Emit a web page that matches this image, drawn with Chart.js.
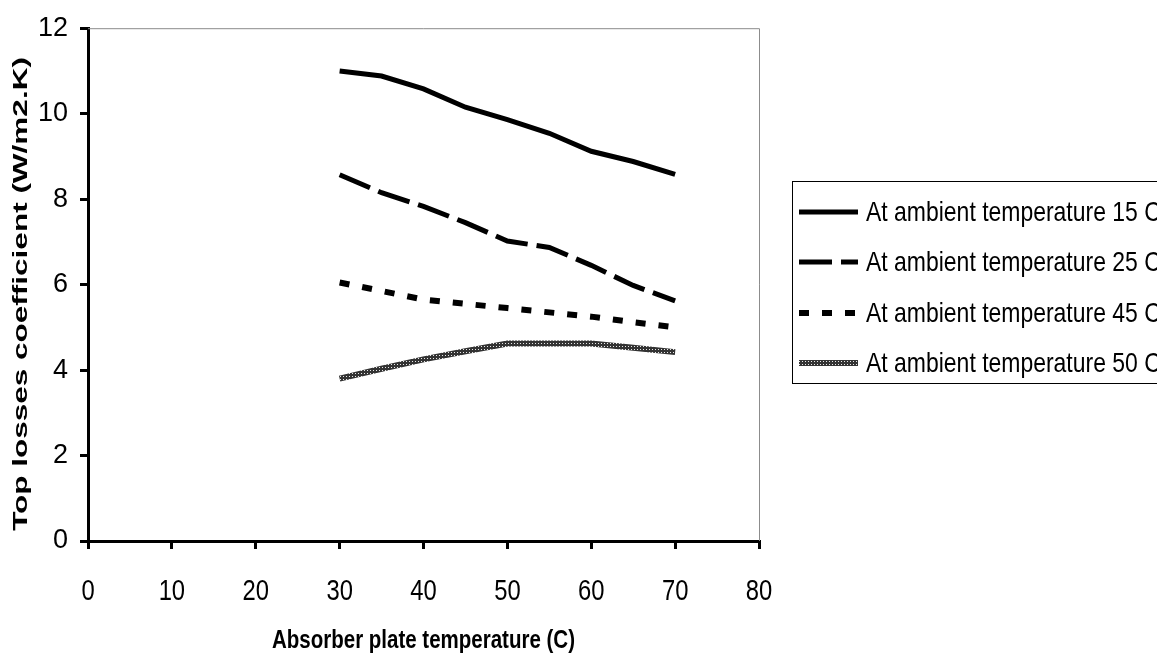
<!DOCTYPE html>
<html>
<head>
<meta charset="utf-8">
<script src="https://cdn.jsdelivr.net/npm/chart.js@4.4.1/dist/chart.umd.min.js"></script>
<style>
  html, body { margin: 0; padding: 0; background: #ffffff; }
  canvas { display: block; }
</style>
</head>
<body>
<canvas id="c" width="1157" height="655"></canvas>
<script>
// ---- data ----
const plateTemps = [30, 35, 40, 45, 50, 55, 60, 65, 70];
const amb15 = [11.0, 10.88, 10.58, 10.15, 9.86, 9.54, 9.12, 8.88, 8.58];
const amb25 = [8.57, 8.15, 7.83, 7.45, 7.02, 6.87, 6.45, 5.98, 5.62];
const amb45 = [6.05, 5.85, 5.65, 5.55, 5.45, 5.35, 5.25, 5.12, 5.0];
const amb50 = [3.8, 4.03, 4.25, 4.44, 4.62, 4.62, 4.62, 4.52, 4.42];
const seriesLabels = [
  'At ambient temperature 15 C',
  'At ambient temperature 25 C',
  'At ambient temperature 45 C',
  'At ambient temperature 50 C'
];
const xTickValues = [0, 10, 20, 30, 40, 50, 60, 70, 80];
const yTickValues = [0, 2, 4, 6, 8, 10, 12];
const xTitle = 'Absorber plate temperature (C)';
const yTitle = 'Top losses coefficient (W/m2.K)';

const REG = "'Liberation Sans', Arial, sans-serif";
const NARROW_X = 0.82; // horizontal squeeze to imitate a narrow face

const canvas = document.getElementById('c');
const ctx = canvas.getContext('2d');

// textured grey pattern for the 50 C series
const pc = document.createElement('canvas');
pc.width = 3; pc.height = 3;
const pctx = pc.getContext('2d');
pctx.fillStyle = '#333333';
pctx.fillRect(0, 0, 3, 3);
pctx.fillStyle = '#e8e8e8';
pctx.fillRect(1, 1, 1, 1);
const texture = ctx.createPattern(pc, 'repeat');

function pts(ys) { return plateTemps.map((x, i) => ({ x: x, y: ys[i] })); }

const datasets = [
  { label: seriesLabels[0], data: pts(amb15), borderColor: '#000000', borderWidth: 5, borderDash: [] },
  { label: seriesLabels[1], data: pts(amb25), borderColor: '#000000', borderWidth: 5, borderDash: [33, 9] },
  { label: seriesLabels[2], data: pts(amb45), borderColor: '#000000', borderWidth: 6, borderDash: [10, 13] },
  { label: seriesLabels[3], data: pts(amb50), borderColor: texture, borderWidth: 6, borderDash: [] }
].map(d => Object.assign(d, { showLine: true, pointRadius: 0, pointHoverRadius: 0, tension: 0, fill: false, borderCapStyle: 'butt', borderJoinStyle: 'miter' }));

function narrowText(c, text, x, y, font, align) {
  c.save();
  c.font = font;
  c.textAlign = align;
  c.textBaseline = 'middle';
  c.fillStyle = '#000';
  c.scale(NARROW_X, 1);
  c.fillText(text, x / NARROW_X, y);
  c.restore();
}

const decor = {
  id: 'decor',
  afterDraw(chart) {
    const c = chart.ctx;
    const a = chart.chartArea;
    c.save();
    // grey frame top & right
    c.strokeStyle = '#8c8c8c';
    c.lineWidth = 1;
    c.beginPath();
    c.moveTo(a.left, a.top + 0.5);
    c.lineTo(a.right + 0.5, a.top + 0.5);
    c.lineTo(a.right + 0.5, a.bottom);
    c.stroke();

    // x tick labels (narrow face), placed by the x scale
    const xs = chart.scales.x;
    xTickValues.forEach(v => {
      narrowText(c, String(v), xs.getPixelForValue(v), 592, '29px ' + REG, 'center');
    });

    // y title (stretched along its length)
    c.save();
    c.translate(21, 294);
    c.rotate(-Math.PI / 2);
    c.scale(1.5, 1);
    c.font = 'bold 21px ' + REG;
    c.fillStyle = '#000';
    c.textAlign = 'center';
    c.textBaseline = 'middle';
    c.fillText(yTitle, 0, 0);
    c.restore();

    // x title
    narrowText(c, xTitle, (a.left + a.right) / 2, 641, 'bold 25px ' + REG, 'center');

    // legend
    const lx = 792, ly = 181, lw = 400, lh = 202;
    c.strokeStyle = '#000';
    c.lineWidth = 1;
    c.strokeRect(lx + 0.5, ly + 0.5, lw, lh);
    const rows = [212, 262, 313, 363];
    chart.data.datasets.forEach((ds, i) => {
      c.save();
      c.strokeStyle = ds.borderColor;
      c.lineWidth = ds.borderWidth;
      c.setLineDash(ds.borderDash || []);
      c.lineCap = 'butt';
      c.beginPath();
      c.moveTo(799, rows[i]);
      c.lineTo(858, rows[i]);
      c.stroke();
      c.restore();
      narrowText(c, ds.label, 866, rows[i] + 1, '28px ' + REG, 'left');
    });
    c.restore();
  }
};

new Chart(ctx, {
  type: 'scatter',
  data: { datasets: datasets },
  options: {
    responsive: false,
    animation: false,
    devicePixelRatio: 1,
    layout: { padding: { left: 0, top: 27, right: 398, bottom: 0 } },
    plugins: { legend: { display: false }, tooltip: { enabled: false } },
    scales: {
      x: {
        type: 'linear', min: 0, max: 80,
        afterBuildTicks: s => { s.ticks = xTickValues.map(v => ({ value: v })); },
        afterFit: s => { s.height = 114; },
        ticks: { display: false },
        grid: { drawOnChartArea: false, color: '#000', lineWidth: 3, tickLength: 8, tickWidth: 3 },
        border: { color: '#000', width: 3 },
        title: { display: false }
      },
      y: {
        type: 'linear', min: 0, max: 12,
        afterBuildTicks: s => { s.ticks = yTickValues.map(v => ({ value: v })); },
        afterFit: s => { s.width = 88; },
        ticks: { color: '#000', font: { family: REG, size: 27 }, padding: 12 },
        grid: { drawOnChartArea: false, color: '#000', lineWidth: 3, tickLength: 8, tickWidth: 3 },
        border: { color: '#000', width: 3 },
        title: { display: false }
      }
    }
  },
  plugins: [decor]
});
</script>
</body>
</html>
